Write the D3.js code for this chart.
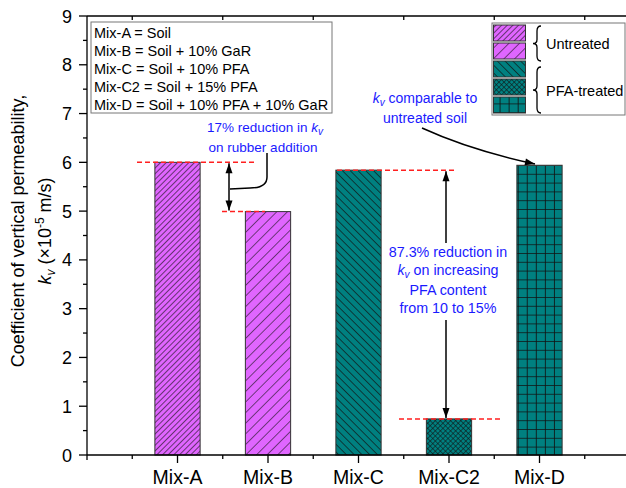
<!DOCTYPE html>
<html>
<head>
<meta charset="utf-8">
<script src="https://cdn.jsdelivr.net/npm/d3@7"></script>
<style>
  body { margin: 0; background: white; }
  text { font-family: "Liberation Sans", Arial, sans-serif; }
</style>
</head>
<body>
<svg id="chart" width="626" height="488"></svg>
<script>
// data
let categories = ["Mix-A", "Mix-B", "Mix-C", "Mix-C2", "Mix-D"]
let values = [6.0, 4.99, 5.84, 0.74, 5.94]
let fills = ["pA", "pB", "pC", "pC2", "pD"]
let yTicks = [0, 1, 2, 3, 4, 5, 6, 7, 8, 9]
let legendLines = ["Mix-A = Soil", "Mix-B = Soil + 10% GaR", "Mix-C = Soil + 10% PFA",
                   "Mix-C2 = Soil + 15% PFA", "Mix-D = Soil + 10% PFA + 10% GaR"]

let purple = "#e066ff"
let teal = "#008080"
let blue = "#1a1aff"

let svg = d3.select("#chart")
let x = d3.scaleLinear().domain([0, 6]).range([87, 630])
let y = d3.scaleLinear().domain([0, 9]).range([455, 16])

// patterns
let defs = svg.append("defs")
function hatch(id, bg, size, angle, sw){
    let p = defs.append("pattern").attr("id", id)
        .attr("patternUnits", "userSpaceOnUse")
        .attr("width", size).attr("height", size)
        .attr("patternTransform", "rotate(" + angle + ")")
    p.append("rect").attr("width", size).attr("height", size).attr("fill", bg)
    p.append("line").attr("x1", 0).attr("y1", 0).attr("x2", 0).attr("y2", size)
        .attr("stroke", "#111").attr("stroke-width", sw)
    return p
}
hatch("pA", purple, 4, 45, 1.2)
hatch("pB", purple, 7.5, 45, 1.1)
hatch("pC", teal, 5.5, -45, 1.3)
let pc2 = hatch("pC2", teal, 3.6, 45, 1.1)
pc2.append("line").attr("x1", 0).attr("y1", 0).attr("x2", 3.6).attr("y2", 0)
    .attr("stroke", "#111").attr("stroke-width", 1.1)
let pd = defs.append("pattern").attr("id", "pD")
    .attr("patternUnits", "userSpaceOnUse").attr("width", 9.05).attr("height", 8.8)
    .attr("x", 517.7).attr("y", 165)
pd.append("rect").attr("width", 9.05).attr("height", 8.8).attr("fill", teal)
pd.append("path").attr("d", "M0,0V8.8M0,0H9.05").attr("stroke", "#111").attr("stroke-width", 1.7)

// bars
let bw = x(0.5) - x(0)
svg.selectAll(".bar").data(values).enter().append("rect")
    .attr("x", (d, i) => x(i + 1) - bw / 2)
    .attr("y", d => y(d))
    .attr("width", bw)
    .attr("height", d => y(0) - y(d))
    .attr("fill", (d, i) => "url(#" + fills[i] + ")")
    .attr("stroke", "#333").attr("stroke-width", 1)

// axes
let ax = svg.append("g").attr("stroke", "#000").attr("stroke-width", 1.3)
ax.append("line").attr("x1", x(0)).attr("x2", x(6)).attr("y1", y(0)).attr("y2", y(0))
ax.append("line").attr("x1", x(0)).attr("x2", x(6)).attr("y1", y(9)).attr("y2", y(9))
ax.append("line").attr("x1", x(0)).attr("x2", x(0)).attr("y1", y(9)).attr("y2", y(0) + 5)
yTicks.forEach(t => {
    ax.append("line").attr("x1", x(0) - 8).attr("x2", x(0)).attr("y1", y(t)).attr("y2", y(t))
    if (t < 9) ax.append("line").attr("x1", x(0) - 4).attr("x2", x(0)).attr("y1", y(t + 0.5)).attr("y2", y(t + 0.5))
})
categories.forEach((c, i) => {
    ax.append("line").attr("x1", x(i + 1)).attr("x2", x(i + 1)).attr("y1", y(0)).attr("y2", y(0) + 8)
})
d3.range(0.5, 6, 1).forEach(t => {
    ax.append("line").attr("x1", x(t)).attr("x2", x(t)).attr("y1", y(0)).attr("y2", y(0) + 4)
    ax.append("line").attr("x1", x(t)).attr("x2", x(t)).attr("y1", y(9)).attr("y2", y(9) + 4)
})

svg.selectAll(".ylab").data(yTicks).enter().append("text")
    .attr("x", x(0) - 15).attr("y", d => y(d) + 6.5)
    .attr("text-anchor", "end").attr("font-size", 18).text(d => d)
svg.selectAll(".xlab").data(categories).enter().append("text")
    .attr("x", (d, i) => x(i + 1)).attr("y", 484)
    .attr("text-anchor", "middle").attr("font-size", 19.5).text(d => d)

// y axis title
let yt = svg.append("g").attr("transform", "translate(24,231) rotate(-90)")
yt.append("text").attr("text-anchor", "middle").attr("font-size", 18)
    .text("Coefficient of vertical permeability,")
let yt2 = yt.append("text").attr("y", 27).attr("text-anchor", "middle").attr("font-size", 18)
yt2.append("tspan").attr("font-style", "italic").text("k")
yt2.append("tspan").attr("font-style", "italic").attr("font-size", 12).attr("dy", 4).text("v")
yt2.append("tspan").attr("dy", -4).text(" (\u00d710")
yt2.append("tspan").attr("font-size", 12).attr("dy", -7).text("-5")
yt2.append("tspan").attr("dy", 7).text(" m/s)")

// left legend
svg.append("rect").attr("x", 91).attr("y", 22).attr("width", 241).attr("height", 91)
    .attr("fill", "white").attr("stroke", "#777").attr("stroke-width", 1)
svg.selectAll(".leg").data(legendLines).enter().append("text")
    .attr("x", 94).attr("y", (d, i) => 37.5 + i * 18)
    .attr("font-size", 14.5).text(d => d)

// right legend
svg.append("rect").attr("x", 492).attr("y", 23).attr("width", 133).attr("height", 92)
    .attr("fill", "white").attr("stroke", "#777").attr("stroke-width", 1)
fills.forEach((f, i) => {
    svg.append("rect").attr("x", 493.5).attr("y", 25 + i * 18).attr("width", 32).attr("height", 16)
        .attr("fill", "url(#" + f + ")").attr("stroke", "#333").attr("stroke-width", 1)
})
function brace(xb, y0, y1){
    let m = (y0 + y1) / 2
    return "M" + xb + "," + y0 + " q-4,0 -4,5 V" + (m - 4) + " q0,4 -4,4 q4,0 4,4 V" + (y1 - 5) + " q0,5 4,5"
}
svg.append("path").attr("d", brace(541, 26, 61)).attr("fill", "none").attr("stroke", "#000").attr("stroke-width", 1.3)
svg.append("path").attr("d", brace(541, 67, 113)).attr("fill", "none").attr("stroke", "#000").attr("stroke-width", 1.3)
svg.append("text").attr("x", 546).attr("y", 49).attr("font-size", 14.5).text("Untreated")
svg.append("text").attr("x", 546).attr("y", 96).attr("font-size", 14.5).text("PFA-treated")

// annotations
svg.append("defs").append("marker").attr("id", "ah").attr("viewBox", "0 0 10 10")
    .attr("refX", 10).attr("refY", 5).attr("markerWidth", 11).attr("markerHeight", 10)
    .attr("markerUnits", "userSpaceOnUse").attr("orient", "auto-start-reverse")
    .append("path").attr("d", "M0,1.5 L10,5 L0,8.5 Z").attr("fill", "#000")

let red = svg.append("g").attr("stroke", "#ff2020").attr("stroke-width", 1.5)
    .attr("stroke-dasharray", "5,3").attr("fill", "none")
red.append("line").attr("x1", 137).attr("x2", 256).attr("y1", y(values[0])).attr("y2", y(values[0]))
red.append("line").attr("x1", 222).attr("x2", 265).attr("y1", y(values[1])).attr("y2", y(values[1]))
red.append("line").attr("x1", 337).attr("x2", 456).attr("y1", y(values[2])).attr("y2", y(values[2]))
red.append("line").attr("x1", 399).attr("x2", 500).attr("y1", y(values[3])).attr("y2", y(values[3]))

let arr = svg.append("g").attr("stroke", "#000").attr("stroke-width", 1.5).attr("fill", "none")
arr.append("line").attr("x1", 229).attr("x2", 229).attr("y1", y(values[0]) + 1).attr("y2", y(values[1]) - 1)
    .attr("marker-start", "url(#ah)").attr("marker-end", "url(#ah)")
arr.append("path").attr("d", "M267,153 V177 Q267,188 250,188 L230,189")
arr.append("line").attr("x1", 446).attr("x2", 446).attr("y1", 243).attr("y2", y(values[2]) + 1)
    .attr("marker-end", "url(#ah)")
arr.append("line").attr("x1", 446).attr("x2", 446).attr("y1", 320).attr("y2", y(values[3]) - 1)
    .attr("marker-end", "url(#ah)")
arr.append("path").attr("d", "M422,128 Q470,150 535,164").attr("marker-end", "url(#ah)")

function kv(sel){
    sel.append("tspan").attr("font-style", "italic").text("k")
    sel.append("tspan").attr("font-style", "italic").attr("font-size", 10).attr("dy", 3).text("v")
}
let a1 = svg.append("text").attr("x", 265).attr("y", 132).attr("text-anchor", "middle")
    .attr("font-size", 13.5).attr("fill", blue)
a1.append("tspan").text("17% reduction in ")
kv(a1)
svg.append("text").attr("x", 263).attr("y", 152).attr("text-anchor", "middle")
    .attr("font-size", 13.5).attr("fill", blue).text("on rubber addition")

let a2 = svg.append("text").attr("x", 425).attr("y", 103).attr("text-anchor", "middle")
    .attr("font-size", 14).attr("fill", blue)
kv(a2)
a2.append("tspan").attr("dy", -3).text(" comparable to")
svg.append("text").attr("x", 425).attr("y", 123).attr("text-anchor", "middle")
    .attr("font-size", 14).attr("fill", blue).text("untreated soil")

let b = [["87.3% reduction in", 257], [null, 275], ["PFA content", 295], ["from 10 to 15%", 313]]
b.forEach(l => {
    let t = svg.append("text").attr("x", 448).attr("y", l[1]).attr("text-anchor", "middle")
        .attr("font-size", 14.3).attr("fill", blue)
    if (l[0]) t.text(l[0])
    else { kv(t); t.append("tspan").attr("dy", -3).text(" on increasing") }
})
</script>
</body>
</html>
